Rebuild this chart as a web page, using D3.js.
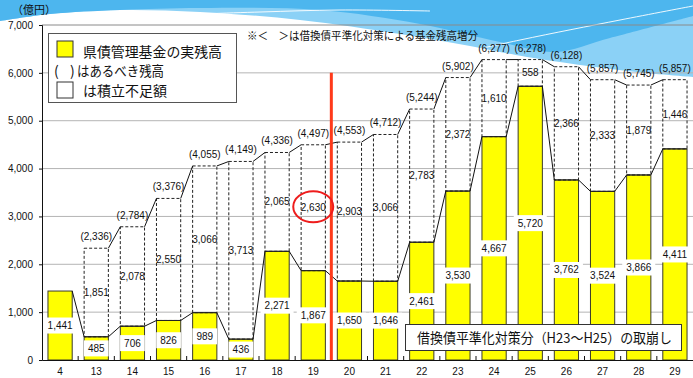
<!DOCTYPE html>
<html>
<head>
<meta charset="utf-8">
<script src="https://cdn.jsdelivr.net/npm/d3@7/dist/d3.min.js"></script>
<style>
  html, body { margin: 0; padding: 0; background: #fff; }
  svg { display: block; }
  .num { font-family: "Liberation Sans", Arial, sans-serif; font-size: 10px; fill: #111; }
  .jp { font-family: "Noto Sans CJK JP", sans-serif; fill: #111; }
</style>
</head>
<body>
<svg id="chart" width="693" height="378"></svg>
<script>
// Fiscal years (Heisei) on the x axis
const years = ["4", "13", "14", "15", "16", "17", "18", "19", "20", "21", "22", "23", "24", "25", "26", "27", "28", "29"];
// Actual balance of the prefectural bond management fund (100 million yen)
const actual = [1441, 485, 706, 826, 989, 436, 2271, 1867, 1650, 1646, 2461, 3530, 4667, 5720, 3762, 3524, 3866, 4411];
// Reserve shortfall
const shortfall = [null, 1851, 2078, 2550, 3066, 3713, 2065, 2630, 2903, 3066, 2783, 2372, 1610, 558, 2366, 2333, 1879, 1446];
// Balance that should be held
const required = [null, 2336, 2784, 3376, 4055, 4149, 4336, 4497, 4553, 4712, 5244, 5902, 6277, 6278, 6128, 5857, 5745, 5857];
const yTicks = [0, 1000, 2000, 3000, 4000, 5000, 6000, 7000];
const circledYear = "19";
const dividerAfter = "19";

const fmt = d3.format(",");
const svg = d3.select("#chart");
const W = 693, H = 378;

// ---- decorative wave header ----
const wave = svg.append("g");
const edge = d3.line().curve(d3.curveCatmullRom.alpha(0.5));
// filled band: straight top edge, curved lower edge
function band(pts) {
  return `M0,0L${W},0L${pts[pts.length - 1][0]},${pts[pts.length - 1][1]}` +
    edge(pts.slice().reverse()).replace(/^M/, "L") + "Z";
}
const lightEdge = [[0, 21], [50, 14], [120, 10], [200, 12], [300, 20], [400, 34], [470, 46], [527, 57], [627, 71], [693, 77]];
const midEdge = [[0, 21], [50, 14], [120, 10], [200, 8], [320, 10], [420, 24], [500, 42], [555, 52], [610, 38], [693, 16]];
wave.append("path").attr("d", band(lightEdge)).attr("fill", "#8bd1f6");
wave.append("path").attr("d", band(midEdge)).attr("fill", "#4db6ee");
wave.append("path").attr("d", edge([[170, 15], [260, 12], [340, 10], [430, 11]]))
  .attr("fill", "none").attr("stroke", "#fff").attr("stroke-width", 1).attr("opacity", 0.9);
wave.append("path").attr("d", edge([[420, 62], [520, 40], [620, 20], [693, 6]]))
  .attr("fill", "none").attr("stroke", "#fff").attr("stroke-width", 1).attr("opacity", 0.9);

// ---- scales ----
const x = d3.scaleBand().domain(years).range([42, 693]).paddingInner(0.33).paddingOuter(0.165);
const y = d3.scaleLinear().domain([0, 7000]).range([360, 25]);
const bw = x.bandwidth();
const gap = x.step() - bw;

// gridlines
svg.append("g").selectAll("line").data(yTicks.filter(d => d > 0)).join("line")
  .attr("x1", 42).attr("x2", W).attr("y1", d => y(d)).attr("y2", d => y(d))
  .attr("stroke", d => d === 7000 ? "#8a8a8a" : "#b4b4b4").attr("stroke-width", 1);

// bars
svg.append("g").selectAll("rect").data(years).join("rect")
  .attr("x", d => x(d)).attr("width", bw)
  .attr("y", (d, i) => y(actual[i])).attr("height", (d, i) => y(0) - y(actual[i]))
  .attr("fill", "#ffff00").attr("stroke", "#3a3a2a").attr("stroke-width", 1);

// dashed shortfall boxes
const idx = d3.range(years.length).filter(i => shortfall[i] != null);
svg.append("g").selectAll("rect").data(idx).join("rect")
  .attr("x", i => x(years[i])).attr("width", bw)
  .attr("y", i => y(actual[i] + shortfall[i])).attr("height", i => y(actual[i]) - y(actual[i] + shortfall[i]))
  .attr("fill", "none").attr("stroke", "#222").attr("stroke-width", 1).attr("stroke-dasharray", "3,2");
// solid top of each bar over the dashed box edge
svg.append("g").selectAll("line").data(idx).join("line")
  .attr("x1", i => x(years[i])).attr("x2", i => x(years[i]) + bw)
  .attr("y1", i => y(actual[i])).attr("y2", i => y(actual[i]))
  .attr("stroke", "#222").attr("stroke-width", 1);

// connectors between consecutive bar tops
const conn = svg.append("g").attr("stroke", "#111").attr("stroke-width", 1).attr("fill", "none");
d3.range(years.length - 1).forEach(i => {
  conn.append("line")
    .attr("x1", x(years[i]) + bw).attr("y1", y(actual[i]))
    .attr("x2", x(years[i + 1])).attr("y2", y(actual[i + 1]));
  if (required[i] != null && required[i + 1] != null) {
    conn.append("line")
      .attr("x1", x(years[i]) + bw).attr("y1", y(required[i]))
      .attr("x2", x(years[i + 1])).attr("y2", y(required[i + 1]));
  }
});

// axes
const yAxis = svg.append("g").attr("transform", "translate(42,0)")
  .call(d3.axisLeft(y).tickValues(yTicks).tickSize(3).tickFormat(d => fmt(d)));
yAxis.select(".domain").attr("stroke", "#111");
yAxis.selectAll(".tick line").attr("stroke", "#111");
yAxis.selectAll("text").attr("class", "num").attr("x", -9).style("font-size", "10px");

const xAxis = svg.append("g").attr("transform", "translate(0,360)")
  .call(d3.axisBottom(x).tickSize(0).tickPadding(8));
xAxis.select(".domain").attr("stroke", "#111");
xAxis.selectAll("text").attr("class", "num").style("font-size", "10px");
// small category separators above the axis
svg.append("g").selectAll("line").data(years.slice(1)).join("line")
  .attr("x1", d => x(d) - gap / 2).attr("x2", d => x(d) - gap / 2)
  .attr("y1", 360).attr("y2", 356).attr("stroke", "#111");

// shortfall labels
svg.append("g").selectAll("text").data(idx).join("text")
  .attr("class", "num").attr("text-anchor", "middle")
  .attr("x", i => x(years[i]) + bw / 2)
  .attr("y", i => (y(actual[i]) + y(actual[i] + shortfall[i])) / 2 + 3.5)
  .text(i => fmt(shortfall[i]));

// required balance labels in parentheses
svg.append("g").selectAll("text").data(idx).join("text")
  .attr("class", "num").attr("text-anchor", "middle")
  .attr("x", i => x(years[i]) + bw / 2)
  .attr("y", i => y(required[i]) - 8)
  .text(i => "(" + fmt(required[i]) + ")");

// actual balance labels on white plates
const barLab = svg.append("g").selectAll("g").data(years).join("g")
  .attr("transform", (d, i) => `translate(${x(d) + bw / 2},${y(actual[i] / 2)})`);
barLab.append("text").attr("class", "num").attr("text-anchor", "middle").attr("y", 3.5)
  .text((d, i) => fmt(actual[i]));
barLab.each(function () {
  const g = d3.select(this);
  const w = g.select("text").node().getComputedTextLength();
  g.insert("rect", "text").attr("x", -w / 2 - 4).attr("y", -8).attr("width", w + 8).attr("height", 16).attr("fill", "#fff");
});

// divider between FY19 and FY20
const xd = x(years[years.indexOf(dividerAfter) + 1]) - gap / 2;
svg.append("line").attr("x1", xd).attr("x2", xd).attr("y1", y(6000)).attr("y2", 360)
  .attr("stroke", "#ff3a1a").attr("stroke-width", 3);

// circle highlighting one shortfall
const ci = years.indexOf(circledYear);
svg.append("ellipse")
  .attr("cx", x(circledYear) + bw / 2)
  .attr("cy", (y(actual[ci]) + y(actual[ci] + shortfall[ci])) / 2 - 1)
  .attr("rx", 20).attr("ry", 15.5)
  .attr("fill", "none").attr("stroke", "#ee1c1c").attr("stroke-width", 2);

// unit label
svg.append("text").attr("class", "jp").attr("x", 12).attr("y", 14).style("font-size", "11px").text("（億円）");

// legend
const lg = svg.append("g");
lg.append("rect").attr("x", 48.5).attr("y", 33.5).attr("width", 188).attr("height", 69)
  .attr("fill", "#fff").attr("stroke", "#555").attr("stroke-width", 1);
lg.append("rect").attr("x", 57).attr("y", 41).attr("width", 16).attr("height", 16)
  .attr("fill", "#ffff00").attr("stroke", "#333");
lg.append("rect").attr("x", 57).attr("y", 82).attr("width", 16).attr("height", 16)
  .attr("fill", "#fff").attr("stroke", "#333");
lg.append("text").attr("class", "jp").attr("x", 83).attr("y", 57).style("font-size", "14px")
  .attr("textLength", 139).attr("lengthAdjust", "spacingAndGlyphs").text("県債管理基金の実残高");
lg.append("text").attr("class", "jp").attr("x", 54).attr("y", 76).style("font-size", "14px").text("(");
lg.append("text").attr("class", "jp").attr("x", 70).attr("y", 76).style("font-size", "14px").text(")");
lg.append("text").attr("class", "jp").attr("x", 77).attr("y", 76).style("font-size", "14px")
  .attr("textLength", 87).attr("lengthAdjust", "spacingAndGlyphs").text("はあるべき残高");
lg.append("text").attr("class", "jp").attr("x", 83).attr("y", 96).style("font-size", "14px")
  .attr("textLength", 84).attr("lengthAdjust", "spacingAndGlyphs").text("は積立不足額");

// note
svg.append("text").attr("class", "jp").attr("x", 247).attr("y", 40).style("font-size", "11px")
  .attr("textLength", 231).attr("lengthAdjust", "spacingAndGlyphs")
  .text("※＜　＞は借換債平準化対策による基金残高増分");

// drawdown note box
svg.append("rect").attr("x", 405.5).attr("y", 324.5).attr("width", 276).attr("height", 26)
  .attr("fill", "#fff").attr("stroke", "#333").attr("stroke-width", 1);
svg.append("text").attr("class", "jp").attr("x", 417).attr("y", 343).style("font-size", "14px")
  .attr("textLength", 255).attr("lengthAdjust", "spacingAndGlyphs")
  .text("借換債平準化対策分（H23～H25）の取崩し");
</script>
</body>
</html>
